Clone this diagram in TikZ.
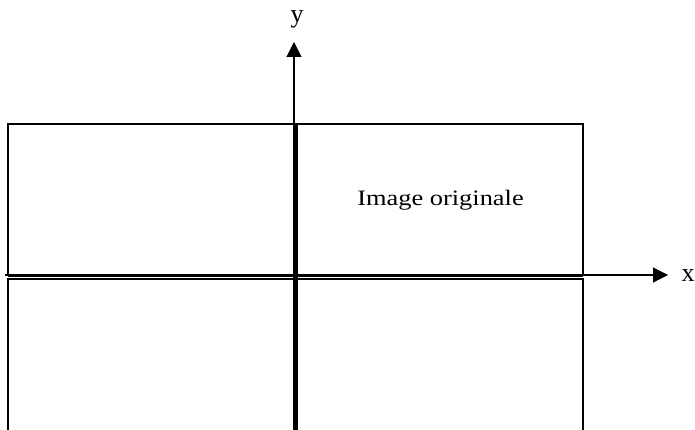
\documentclass[tikz,border=0pt]{standalone}
\usepackage{fontspec}
\setmainfont{Liberation Serif}
\usepackage{graphicx}
\usetikzlibrary{arrows.meta}

\begin{document}
\begin{tikzpicture}[x=1pt, y=-1pt,
  frame/.style={draw, line width=2pt},
  axe/.style={-{Triangle[length=15pt, width=15pt]}, line width=1.1pt},
  lbl/.style={font=\fontsize{26}{28}\selectfont, inner sep=0pt, anchor=base}]
\useasboundingbox (0,0) rectangle (695,430);
% points
\coordinate (o)    at (294,275);
\coordinate (xs)   at (5,275);
\coordinate (xt)   at (668,275);
\coordinate (yt)   at (294,42);
\coordinate (vtop) at (295.5,124);
\coordinate (vbot) at (295.5,432);
% image originale (haut) et quadrant du bas
\draw[frame] (8,275) -- (8,124) -- (583,124) -- (583,275);
\draw[frame] (8,432) -- (8,279) -- (583,279) -- (583,432);
\draw[line width=3pt] (8,275) -- (583,275);
\draw[line width=5pt] (vtop) -- (vbot);
% axes
\draw[axe] (xs) -- (xt);
\draw[axe] (o) -- (yt);
\node[lbl] (xlab) at (688,281) {x};
\node[lbl] (ylab) at (297,23) {y};
\node[lbl, font=\fontsize{22}{24}\selectfont] (orig) at (440.5,206)
  {\scalebox{1.2}[1]{Image originale}};
\end{tikzpicture}
\end{document}
